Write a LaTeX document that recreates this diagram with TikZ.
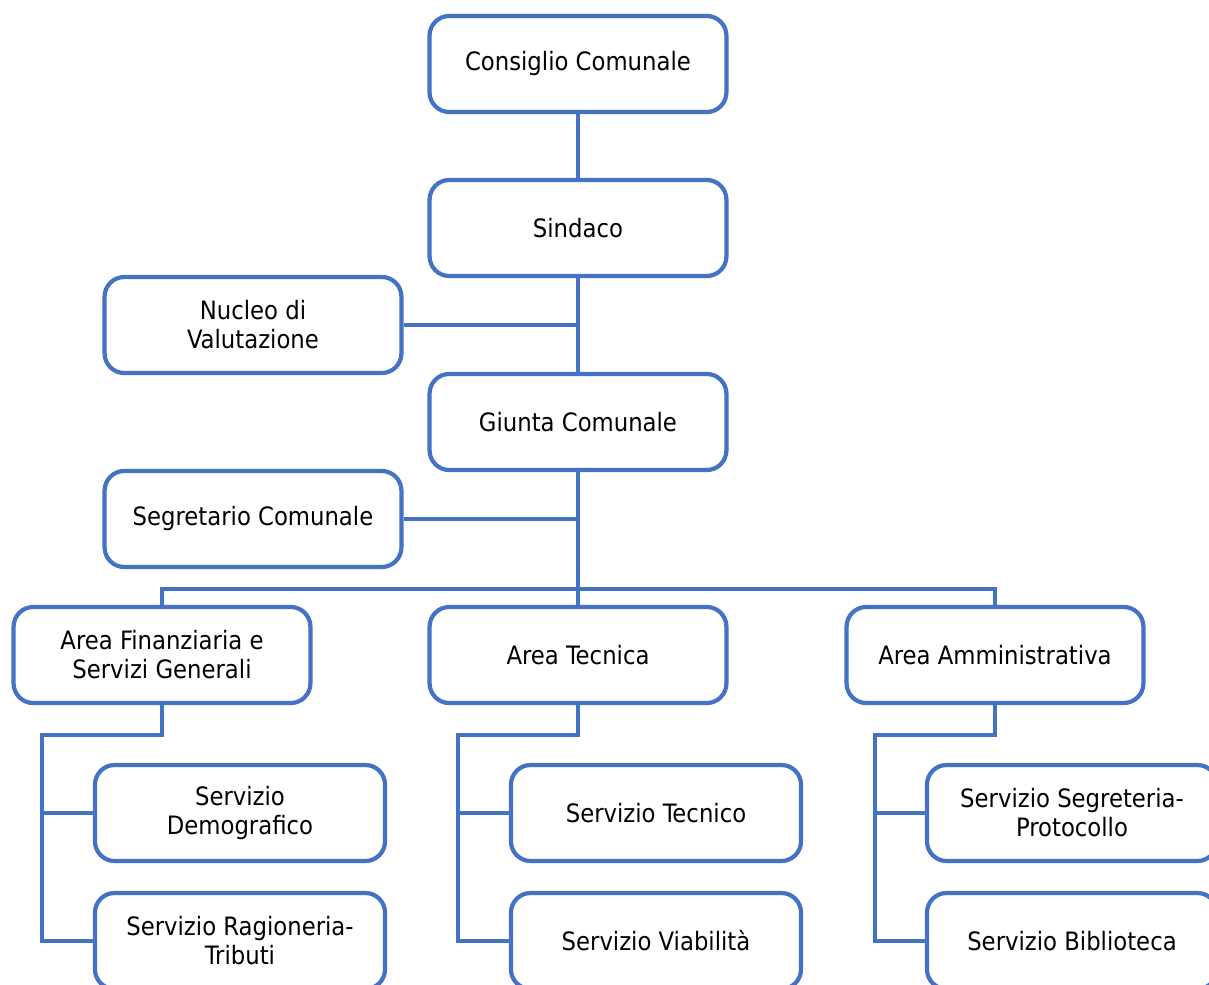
\documentclass[tikz,border=0pt]{standalone}
\usepackage{fontspec}
\setmainfont{DejaVu Sans Condensed}
\definecolor{orgblue}{HTML}{4472C4}

\tikzset{
  unit/.style={draw=orgblue, line width=3pt, rounded corners=14pt, fill=white,
    minimum width=7.42cm, minimum height=2.4cm, inner sep=0pt, align=center,
    font=\fontsize{18}{20.6}\selectfont},
  subunit/.style={unit, minimum width=7.25cm},
  link/.style={draw=orgblue, line width=2.3pt}
}

\begin{document}
\begin{tikzpicture}[x=0.025cm, y=-0.025cm]
 \clip (0,0) rectangle (1209,985);

 \node [unit] (cc)  at (578,64)  {Consiglio Comunale};
 \node [unit] (sin) at (578,228) {Sindaco};
 \node [unit] (nuc) at (253,325) {Nucleo di\\Valutazione};
 \node [unit] (gc)  at (578,422) {Giunta Comunale};
 \node [unit] (seg) at (253,519) {Segretario Comunale};

 \node [unit] (af) at (162,655) {Area Finanziaria e\\Servizi Generali};
 \node [unit] (at) at (578,655) {Area Tecnica};
 \node [unit] (aa) at (995,655) {Area Amministrativa};

 \node [subunit] (sdem) at (240,813)  {Servizio\\Demografico};
 \node [subunit] (srag) at (240,941)  {Servizio Ragioneria-\\Tributi};
 \node [subunit] (stec) at (656,813)  {Servizio Tecnico};
 \node [subunit] (svia) at (656,941)  {Servizio Viabilità};
 \node [subunit] (sseg) at (1072,813) {Servizio Segreteria-\\Protocollo};
 \node [subunit] (sbib) at (1072,941) {Servizio Biblioteca};

 \coordinate (bus) at (578,589);
 \coordinate (afk) at (42,735);
 \coordinate (atk) at (458,735);
 \coordinate (aak) at (875,735);

 \draw [link] (cc) -- (sin);
 \draw [link] (sin) -- (gc);
 \draw [link] (nuc.east) -- (nuc.east -| sin.south);
 \draw [link] (gc) -- (at);
 \draw [link] (seg.east) -- (seg.east -| gc.south);
 \draw [link] (af.north) |- (bus) -| (aa.north);

 \draw [link] (af.south) |- (afk) |- (sdem.west);
 \draw [link] (afk) |- (srag.west);
 \draw [link] (at.south) |- (atk) |- (stec.west);
 \draw [link] (atk) |- (svia.west);
 \draw [link] (aa.south) |- (aak) |- (sseg.west);
 \draw [link] (aak) |- (sbib.west);

\end{tikzpicture}
\end{document}
